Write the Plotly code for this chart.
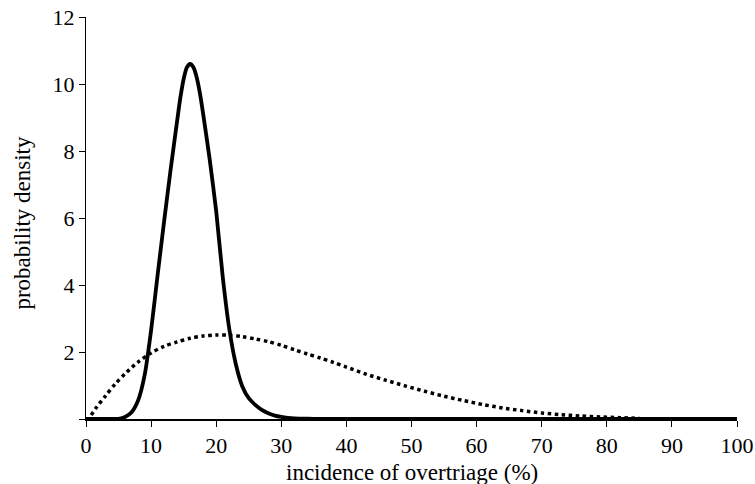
import plotly.graph_objects as go

# solid curve (narrow distribution)
solid_x = [0, 2, 4, 5, 6, 7, 8, 9, 10, 11, 12, 13, 14, 14.5, 15, 15.5, 16, 16.5, 17, 17.5, 18, 19, 20, 21, 22, 23, 24, 25, 26, 27, 28, 29, 30, 31, 32, 34, 36, 40, 50, 60, 70, 80, 90, 100]
solid_y = [0, 0, 0, 0.005, 0.06, 0.2, 0.55, 1.3, 2.65, 4.3, 5.9, 7.45, 8.9, 9.6, 10.15, 10.5, 10.6, 10.5, 10.2, 9.72, 9.1, 7.75, 6.2, 4.25, 2.7, 1.65, 0.98, 0.62, 0.42, 0.27, 0.17, 0.1, 0.06, 0.035, 0.02, 0.008, 0.003, 0, 0, 0, 0, 0, 0, 0]

# dotted curve (broad distribution)
dot_x = [0.8, 1.5, 3, 4.5, 6, 8, 10, 12, 14, 16, 18, 20, 22, 24, 26, 28, 30, 32, 34, 36, 38, 40, 43, 46, 49, 52, 55, 58, 61, 64, 67, 70, 73, 76, 79, 82, 85]
dot_y = [0.12, 0.32, 0.69, 1.05, 1.35, 1.70, 1.97, 2.17, 2.30, 2.41, 2.48, 2.51, 2.50, 2.46, 2.39, 2.31, 2.20, 2.07, 1.94, 1.82, 1.69, 1.55, 1.34, 1.16, 0.99, 0.83, 0.68, 0.55, 0.43, 0.33, 0.25, 0.18, 0.13, 0.09, 0.06, 0.04, 0.02]

x_ticks = [0, 10, 20, 30, 40, 50, 60, 70, 80, 90, 100]
y_ticks = [0, 2, 4, 6, 8, 10, 12]
y_ticktext = ["", "2", "4", "6", "8", "10", "12"]

x_title = "incidence of overtriage (%)"
y_title = "probability density"

FONT = "Liberation Serif, Times New Roman, serif"

fig = go.Figure()
fig.add_trace(go.Scatter(x=dot_x, y=dot_y, mode="lines",
                         line=dict(color="black", width=3.5, dash="3.5px,3.5px", shape="spline", smoothing=0.8),
                         showlegend=False, hoverinfo="skip"))
fig.add_trace(go.Scatter(x=solid_x, y=solid_y, mode="lines",
                         line=dict(color="black", width=3.8, shape="spline", smoothing=0.6),
                         showlegend=False, hoverinfo="skip"))

fig.update_layout(
    width=755, height=484,
    margin=dict(l=86, r=18, t=17, b=65),
    paper_bgcolor="white", plot_bgcolor="white",
    font=dict(family=FONT, size=22, color="black"),
    xaxis=dict(range=[0, 100], tickvals=x_ticks, ticks="outside", ticklen=6, tickwidth=1.2,
               tickcolor="black", showline=True, linecolor="black", linewidth=1.6,
               showgrid=False, zeroline=False, tickfont=dict(size=22), automargin=False),
    yaxis=dict(range=[0, 12], tickvals=y_ticks, ticktext=y_ticktext, ticks="outside", ticklen=6,
               tickwidth=1.2, tickcolor="black", showline=True, linecolor="black", linewidth=1.2,
               showgrid=False, zeroline=False, tickfont=dict(size=22), automargin=False),
    annotations=[
        dict(text=x_title, xref="paper", yref="paper", x=0.5, y=-0.132, xanchor="center",
             yanchor="middle", showarrow=False, font=dict(size=23)),
        dict(text=y_title, xref="paper", yref="paper", x=-0.098, y=0.489, xanchor="center",
             yanchor="middle", textangle=-90, showarrow=False, font=dict(size=23)),
    ],
)

fig.write_html("out.html", config={"displayModeBar": False},
               post_script="document.body.style.margin='0px';document.body.style.overflow='hidden';")
